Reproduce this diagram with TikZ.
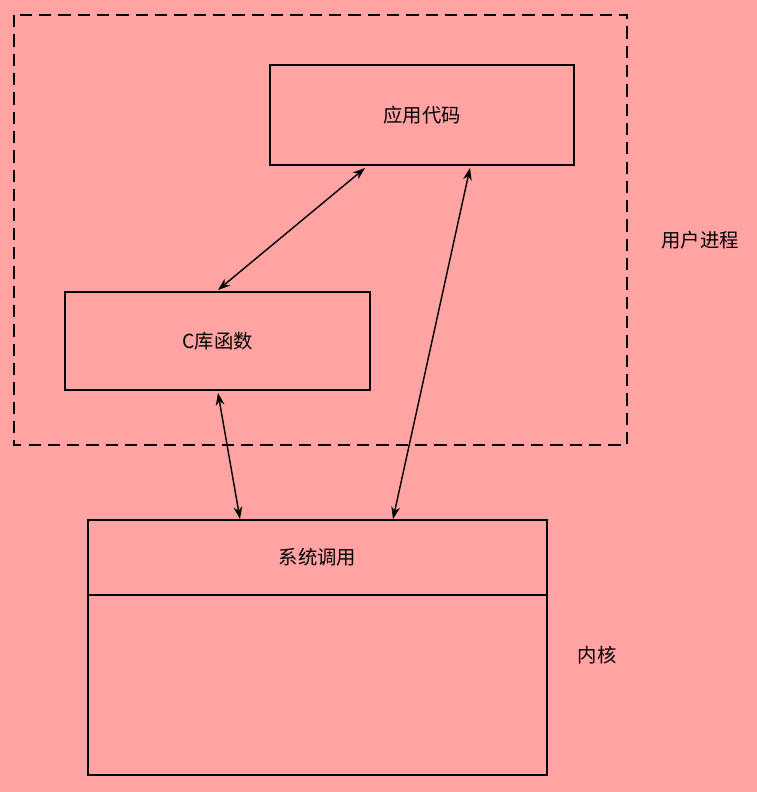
\documentclass[tikz,border=0pt]{standalone}
\usepackage{fontspec}
\newfontfamily\cjk{Noto Sans CJK SC}
\usetikzlibrary{arrows.meta}
\definecolor{bgpink}{HTML}{FFA3A3}
\begin{document}
\begin{tikzpicture}[x=0.02cm, y=-0.02cm, every node/.style={font=\cjk\fontsize{11}{13}\selectfont},
  box/.style={draw, thick, rectangle, inner sep=0pt},
  link/.style={thick, {Stealth[length=7pt,width=5pt]}-{Stealth[length=7pt,width=5pt]}}]
\fill[bgpink] (0,0) rectangle (757,792);
\useasboundingbox (0,0) rectangle (757,792);
\draw[thick, dash pattern=on 7pt off 4pt] (14,15) rectangle (627,445);
\node[box, minimum width=6.08cm, minimum height=2cm] (app) at (422,115) {应用代码};
\node[box, minimum width=6.1cm, minimum height=1.96cm] (clib) at (217.5,341) {C库函数};
\node[box, minimum width=9.18cm, minimum height=5.1cm] (kern) at (317.5,647.5) {};
\draw[thick] (88,595) -- (547,595);
\node (sys) at (317.5,557) {系统调用};
\node (user) at (700,240) {用户进程};
\node (ker) at (597,655) {内核};
\coordinate (a1) at (365,168);
\coordinate (a2) at (470,168);
\coordinate (c1) at (218,290);
\coordinate (c2) at (218,393);
\coordinate (k1) at (240,519);
\coordinate (k2) at (393,519);
\draw[link] (a1) -- (c1);
\draw[link] (a2) -- (k2);
\draw[link] (c2) -- (k1);
\end{tikzpicture}
\end{document}
